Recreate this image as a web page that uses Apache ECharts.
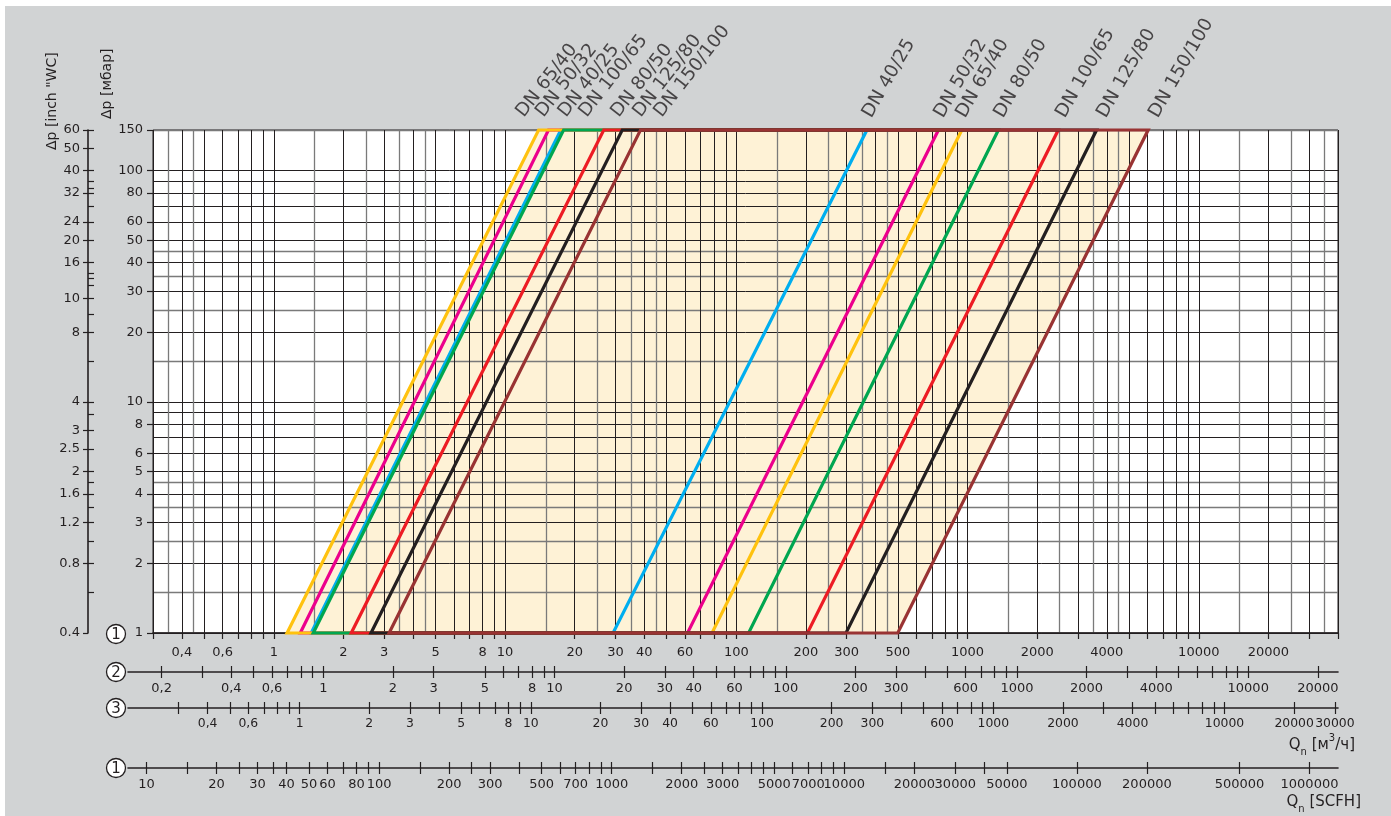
<!DOCTYPE html>
<html><head><meta charset="utf-8">
<script src="https://cdn.jsdelivr.net/npm/echarts@6/dist/echarts.min.js"></script>
<style>
html,body{margin:0;padding:0;background:#fff;}
#wrap{position:relative;width:1391px;height:816px;overflow:hidden;}
#bg{position:absolute;left:5px;top:6px;right:0;bottom:0;background:#d1d3d4;}
#chart{position:absolute;left:0;top:0;width:1391px;height:816px;}
</style></head><body>
<div id="wrap"><div id="bg"></div><div id="chart"></div></div>
<script>
// ---------------- data ----------------
const dnNames  = ['DN 40/25','DN 50/32','DN 65/40','DN 80/50','DN 100/65','DN 125/80','DN 150/100'];
const dnColors = ['#00aeef','#ec008c','#ffc20e','#00a650','#ed1c24','#231f20','#993333'];
// flow [m3/h] on the left (low) line at 1 mbar and 150 mbar
const leftQ1   = [1.45, 1.30, 1.14, 1.48, 2.16, 2.63, 3.15];
const leftQ150 = [17.4, 15.4, 13.96, 17.9, 26.7, 32.1, 38.5];
// flow [m3/h] on the right (high) line at 1 mbar and 150 mbar
const rightQ1   = [29.3, 61.5, 78.5, 113, 203, 298, 499];
const rightQ150 = [367, 748, 944, 1359, 2467, 3614, 6040];
const pMin = 1, pMax = 150;

// label anchors (flow value where each rotated label starts)
const leftLabelNames  = ['DN 65/40','DN 50/32','DN 40/25','DN 100/65','DN 80/50','DN 125/80','DN 150/100'];
const leftLabelQ      = [12.5, 15.2, 19.0, 23.4, 32.2, 40.0, 49.4];
const rightLabelNames = ['DN 40/25','DN 50/32','DN 65/40','DN 80/50','DN 100/65','DN 125/80','DN 150/100'];
const rightLabelQ     = [399, 816, 1015, 1482, 2744, 4127, 6922];

// axes
const qMin = 0.3, qMax = 40000;
const gridMantInt  = [1,2,3,4,5,6,7,8,9];
const gridMantHalf = [1.5,2.5,3.5,4.5];
const axis1Labels = [0.4,0.6,1,2,3,5,8,10,20,30,40,60,100,200,300,500,1000,2000,4000,10000,20000];
const ax2Range = [0.143, 24450];
const ax2Ticks = [0.2,0.3,0.4,0.5,0.6,0.7,0.8,0.9,1,2,3,5,6,7,8,9,10,20,30,40,50,60,70,80,90,
                  100,200,300,400,500,600,700,800,900,1000,2000,3000,4000,5000,6000,7000,8000,9000,10000,20000];
const ax2Labels = [0.2,0.4,0.6,1,2,3,5,8,10,20,30,40,60,100,200,300,600,1000,2000,4000,10000,20000];
const ax3Range = [0.181, 30960];
const ax3Ticks = [0.3,0.4,0.5,0.6,0.7,0.8,0.9,1,2,3,4,5,6,7,8,9,10,20,30,40,50,60,70,80,90,
                  100,200,300,400,500,600,700,800,900,1000,2000,3000,4000,5000,6000,7000,8000,9000,10000,20000,30000];
const ax3Labels = [0.4,0.6,1,2,3,5,8,10,20,30,40,60,100,200,300,600,1000,2000,4000,10000,20000,30000];
const scfhRange = [8.33, 1326000];
const scfhTicks = [10,15,20,25,30,35,40,50,60,70,80,90,100,150,200,250,300,400,500,600,700,800,900,
                   1000,1500,2000,2500,3000,3500,4000,4500,5000,6000,7000,8000,9000,10000,15000,20000,30000,40000,50000,
                   100000,200000,500000,1000000];
const scfhLabels = [10,20,30,40,50,60,80,100,200,300,500,700,1000,2000,3000,5000,7000,10000,20000,30000,50000,100000,200000,500000,1000000];
const mbarLabels = [1,2,3,4,5,6,8,10,20,30,40,50,60,80,100,150];
const inchMin = 0.4, inchMax = 60;
const inchMajorVals   = [60,50,40,32,24,20,16,11.2,8,4,3,2.5,2,1.6,1.2,0.8,0.4];
const inchMajorLabels = ['60','50','40','32','24','20','16','10','8','4','3','2.5','2','1.6','1.2','0.8','0.4'];
const inchMinorVals   = [36,33.5,28,14.4,13.7,12.8,9.6,6,3.55,1.8,1.4,1,0.6];

// ---------------- helpers ----------------
function gridValues(mants, lo, hi){
  const out=[];
  for(let e=-2;e<=6;e++){ for(const m of mants){ const v=Number((m*Math.pow(10,e)).toPrecision(6)); if(v>=lo*0.9999 && v<=hi*1.0001) out.push(v);} }
  return out;
}
const xInt = gridValues(gridMantInt, qMin, qMax);
const xHalf = gridValues(gridMantHalf, qMin, qMax);
const yInt = gridValues(gridMantInt, pMin, pMax);
const yHalf = gridValues(gridMantHalf, pMin, pMax);
const INK = '#231f20';
const FONT = 'DejaVu Sans';
const comma = v => String(Number(Number(v).toPrecision(6))).replace('.', ',');
const plain = v => String(Number(Number(v).toPrecision(6)));

function splitAxis(vals, color, width, extra){
  return Object.assign({
    type:'log', logBase:10, gridIndex:0, min:qMin, max:qMax, z:2,
    axisLine:{show:false}, axisTick:{show:false, customValues:vals},
    axisLabel:{show:false}, splitLine:{show:true, lineStyle:{color:color, width:width}}
  }, extra||{});
}
function secAxis(grid, range, ticks, labels, inside, fs){
  return {
    type:'log', logBase:10, gridIndex:grid, min:range[0], max:range[1], position:'bottom', z:2,
    axisLine:{show:!inside, lineStyle:{color:INK, width:1.6}},
    axisTick:{show:true, inside:inside, length:6, customValues:ticks, lineStyle:{color:INK, width:1.2}},
    axisLabel:{show:!inside, customValues:labels, margin:10, fontSize:fs||13, fontFamily:FONT, color:INK, formatter:comma,
               hideOverlap:false, showMinLabel:true, showMaxLabel:true},
    splitLine:{show:false}
  };
}

const option = {
  backgroundColor:'transparent',
  animation:false,
  textStyle:{fontFamily:FONT},
  grid:[
    {left:153, top:130, width:1185, height:503, show:true, backgroundColor:'#ffffff', borderColor:INK, borderWidth:1, containLabel:false, outerBoundsMode:'none', z:0},
    {left:128, top:671, width:1210, height:1, containLabel:false, outerBoundsMode:'none'},
    {left:128, top:707, width:1210, height:1, containLabel:false, outerBoundsMode:'none'},
    {left:128, top:767, width:1210, height:1, containLabel:false, outerBoundsMode:'none'}
  ],
  xAxis:[
    splitAxis(xInt, INK, 1),
    splitAxis(xHalf, '#7a7a7a', 1.3),
    {
      type:'log', logBase:10, gridIndex:0, min:qMin, max:qMax, position:'bottom', z:2,
      axisLine:{show:true, lineStyle:{color:INK, width:1.5}},
      axisTick:{show:true, length:6, customValues:xInt, lineStyle:{color:INK, width:1.2}},
      axisLabel:{show:true, customValues:axis1Labels, margin:13, fontSize:13, fontFamily:FONT, color:INK, formatter:comma, hideOverlap:false},
      splitLine:{show:false}
    },
    secAxis(1, ax2Range, ax2Ticks, ax2Labels, false),
    secAxis(1, ax2Range, ax2Ticks, ax2Labels, true),
    secAxis(2, ax3Range, ax3Ticks, ax3Labels, false, 12.4),
    secAxis(2, ax3Range, ax3Ticks, ax3Labels, true),
    secAxis(3, scfhRange, scfhTicks, scfhLabels, false),
    secAxis(3, scfhRange, scfhTicks, scfhLabels, true)
  ],
  yAxis:[
    Object.assign(splitAxis(yInt, INK, 1), {min:pMin, max:pMax}),
    Object.assign(splitAxis(yHalf, '#7a7a7a', 1.3), {min:pMin, max:pMax}),
    {
      type:'log', logBase:10, gridIndex:0, min:pMin, max:pMax, position:'left', z:2,
      axisLine:{show:false},
      axisTick:{show:true, length:6, customValues:mbarLabels, lineStyle:{color:INK, width:1.2}},
      axisLabel:{show:true, customValues:mbarLabels, margin:10, fontSize:13, fontFamily:FONT, color:INK, formatter:plain, hideOverlap:false},
      splitLine:{show:false}
    },
    {
      type:'log', logBase:10, gridIndex:0, min:inchMin, max:inchMax, position:'left', offset:65, z:2,
      axisLine:{show:true, lineStyle:{color:INK, width:1.6}},
      axisTick:{show:true, length:5, customValues:inchMajorVals, lineStyle:{color:INK, width:1.2}},
      axisLabel:{show:true, customValues:inchMajorVals, margin:8, fontSize:13, fontFamily:FONT, color:INK, hideOverlap:false,
        formatter:function(v){ let best=0, bd=1e9; inchMajorVals.forEach((m,i)=>{const d=Math.abs(Math.log(m/v)); if(d<bd){bd=d;best=i;}}); return inchMajorLabels[best]; }},
      splitLine:{show:false}
    },
    {
      type:'log', logBase:10, gridIndex:0, min:inchMin, max:inchMax, position:'left', offset:65, z:2,
      axisLine:{show:false},
      axisTick:{show:true, inside:true, length:6, customValues:inchMajorVals.filter(v=>v>inchMin).concat(inchMinorVals), lineStyle:{color:INK, width:1.2}},
      axisLabel:{show:false}, splitLine:{show:false}
    },
    {type:'value', gridIndex:1, show:false, min:0, max:1},
    {type:'value', gridIndex:2, show:false, min:0, max:1},
    {type:'value', gridIndex:3, show:false, min:0, max:1}
  ],
  series:[
    {
      type:'custom', name:'area', xAxisIndex:0, yAxisIndex:0, z:1, clip:false, silent:true,
      data:[[leftQ1[2], pMin]],
      renderItem:function(params, api){
        let li=0, ri=0;
        leftQ1.forEach((q,i)=>{ if(q<leftQ1[li]) li=i; });
        rightQ1.forEach((q,i)=>{ if(q>rightQ1[ri]) ri=i; });
        const pts=[[leftQ1[li],pMin],[leftQ150[li],pMax],[rightQ150[ri],pMax],[rightQ1[ri],pMin]].map(p=>api.coord(p));
        return {type:'polygon', shape:{points:pts}, style:{fill:'#fef2d6', stroke:'none'}};
      }
    },
    {
      type:'custom', name:'DN', xAxisIndex:0, yAxisIndex:0, z:3, clip:false, silent:true,
      data:dnNames.map((n,i)=>[leftQ1[i], pMin, i]),
      renderItem:function(params, api){
        const i=api.value(2);
        const pts=[[leftQ1[i],pMin],[leftQ150[i],pMax],[rightQ150[i],pMax],[rightQ1[i],pMin]].map(p=>api.coord(p));
        return {type:'polygon', shape:{points:pts}, style:{fill:'none', stroke:dnColors[i], lineWidth:3.2, lineJoin:'miter', miterLimit:20}};
      }
    },
    {
      type:'scatter', xAxisIndex:0, yAxisIndex:0, z:4, symbolSize:0.01, silent:true,
      itemStyle:{color:'rgba(0,0,0,0)'},
      data:leftLabelQ.map((q,i)=>[q, pMax, leftLabelNames[i]]),
      label:{show:true, position:[0,-9], align:'left', verticalAlign:'bottom', rotate:52, fontSize:18.5, fontFamily:FONT, color:INK,
        formatter:p=>p.value[2]}
    },
    {
      type:'scatter', xAxisIndex:0, yAxisIndex:0, z:4, symbolSize:0.01, silent:true,
      itemStyle:{color:'rgba(0,0,0,0)'},
      data:rightLabelQ.map((q,i)=>[q, pMax, rightLabelNames[i]]),
      label:{show:true, position:[0,-9], align:'left', verticalAlign:'bottom', rotate:60, fontSize:18.5, fontFamily:FONT, color:INK,
        formatter:p=>p.value[2]}
    }
  ],
  graphic:[
    {type:'text', x:52, y:150, rotation:Math.PI/2, style:{text:'Δp [inch "WC]', font:'14px DejaVu Sans', fill:INK, align:'left', verticalAlign:'middle'}},
    {type:'text', x:107, y:119, rotation:Math.PI/2, style:{text:'Δp [мбар]', font:'14px DejaVu Sans', fill:INK, align:'left', verticalAlign:'middle'}},
    ...[['1',634],['2',672],['3',708],['1',768]].map(a=>({
      type:'group', x:116, y:a[1], z:10,
      children:[
        {type:'circle', shape:{cx:0, cy:0, r:9.5}, style:{fill:'#ffffff', stroke:INK, lineWidth:1.3}},
        {type:'text', style:{text:a[0], x:0, y:1, font:'15px DejaVu Sans', fill:INK, align:'center', verticalAlign:'middle'}}
      ]})),
    {type:'text', x:1355, y:745, style:{text:'{q|Q}{n|n}{q| [м}{s|3}{q|/ч]}', align:'right', verticalAlign:'middle',
      rich:{q:{fontSize:15, fontFamily:FONT, fill:INK, color:INK, lineHeight:24, verticalAlign:'middle'},
            n:{fontSize:10, fontFamily:FONT, fill:INK, color:INK, lineHeight:24, verticalAlign:'bottom'},
            s:{fontSize:10, fontFamily:FONT, fill:INK, color:INK, lineHeight:24, verticalAlign:'top'}}}},
    {type:'text', x:1361, y:802, style:{text:'{q|Q}{n|n}{q| [SCFH]}', align:'right', verticalAlign:'middle',
      rich:{q:{fontSize:15, fontFamily:FONT, fill:INK, color:INK, lineHeight:24, verticalAlign:'middle'},
            n:{fontSize:10, fontFamily:FONT, fill:INK, color:INK, lineHeight:24, verticalAlign:'bottom'}}}}
  ]
};
const chart = echarts.init(document.getElementById('chart'), null, {renderer:'canvas', width:1391, height:816});
chart.setOption(option);
</script>
</body></html>
